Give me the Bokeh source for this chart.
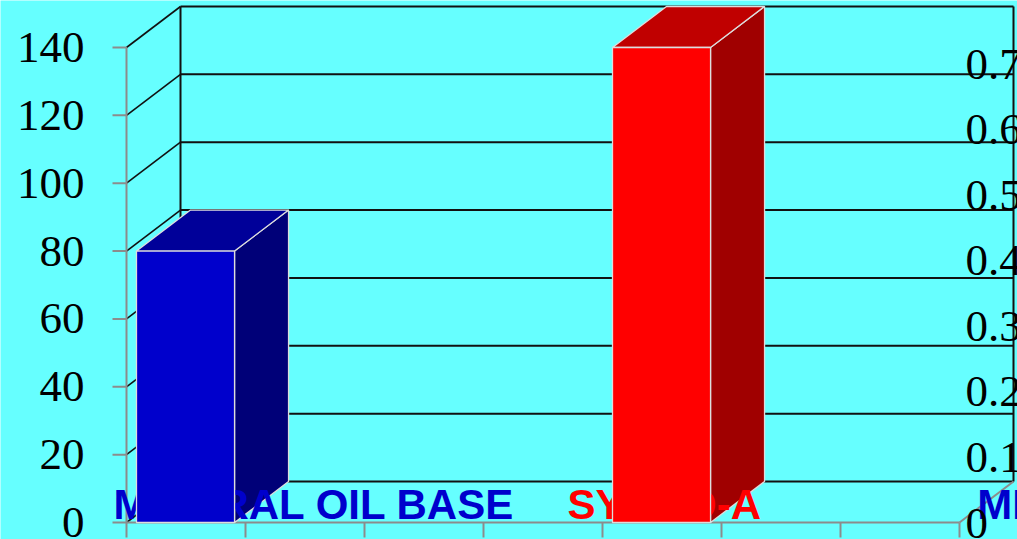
from bokeh.plotting import figure
from bokeh.models import Range1d
from bokeh.core.properties import value
from bokeh.embed import file_html
from bokeh.resources import INLINE

# ---------------- data ----------------
bar_names = ["MINERAL OIL BASE", "SYNCO-A"]
bar_values = [80, 140]
bar_slots = [0, 4]
n_slots = 7

front_colors = ["#0000CC", "#FF0000"]
top_colors = ["#000099", "#C00000"]
side_colors = ["#000078", "#A00000"]

left_ticks = [0, 20, 40, 60, 80, 100, 120, 140]
left_tick_labels = ["0", "20", "40", "60", "80", "100", "120", "140"]

right_ticks = [0, 0.1, 0.2, 0.3, 0.4, 0.5, 0.6, 0.7]
right_tick_labels = ["0", "0.1", "0.2", "0.3", "0.4", "0.5", "0.6", "0.7"]

cat_texts = ["MINERAL OIL BASE", "SYNCO-A", "MI"]
cat_text_colors = ["#0000CC", "#FF0000", "#0000CC"]
cat_text_x = [-0.11, 3.705, 7.15]

# ---------------- layout constants ----------------
W, H = 1017, 539
PX_X = 119.0      # pixels per category slot
PX_Y = 3.3929     # pixels per value unit
X0_PX = 126.0     # pixel of slot 0
Y0_PX = 522.0     # pixel of value 0
DX = 54.0 / PX_X  # depth offset (x)
DY = 41.0 / PX_Y  # depth offset (y)
BAR_PAD = 0.084
BAR_W = 0.824
YMAX = left_ticks[-1]

p = figure(width=W, height=H, output_backend="svg", toolbar_location=None,
           x_axis_location=None, y_axis_location=None,
           x_range=Range1d(-X0_PX / PX_X, (W - X0_PX) / PX_X),
           y_range=Range1d((Y0_PX - H) / PX_Y, Y0_PX / PX_Y),
           min_border=0, min_border_left=0, min_border_right=0,
           min_border_top=0, min_border_bottom=0)
p.extra_y_ranges = {"right": Range1d((522.6 - H) / 655.8, 522.6 / 655.8)}
p.background_fill_color = "#66FFFF"
p.border_fill_color = "#66FFFF"
p.outline_line_color = None
p.xgrid.visible = False
p.ygrid.visible = False

# back wall gridlines
p.segment(x0=[DX] * len(left_ticks), y0=[v + DY for v in left_ticks],
          x1=[n_slots + DX] * len(left_ticks), y1=[v + DY for v in left_ticks],
          line_color="#111111", line_width=2)
# back wall verticals
p.segment(x0=[DX, n_slots + DX], y0=[DY, DY], x1=[DX, n_slots + DX], y1=[YMAX + DY] * 2,
          line_color="#111111", line_width=2)
# left wall diagonals
p.segment(x0=[0] * len(left_ticks), y0=left_ticks,
          x1=[DX] * len(left_ticks), y1=[v + DY for v in left_ticks],
          line_color="#111111", line_width=1.6)
# left axis line and ticks
p.segment(x0=[0], y0=[0], x1=[0], y1=[YMAX], line_color="#8C8C8C", line_width=2)
p.segment(x0=[-14 / PX_X] * len(left_ticks), y0=left_ticks,
          x1=[0] * len(left_ticks), y1=left_ticks, line_color="#8C8C8C", line_width=2)
# floor front edge, right edge, ticks
p.segment(x0=[0, n_slots], y0=[0, 0], x1=[n_slots, n_slots + DX], y1=[0, DY],
          line_color="#8C8C8C", line_width=2)
slots = list(range(n_slots + 1))
p.segment(x0=slots, y0=[0] * len(slots), x1=slots, y1=[-15 / PX_Y] * len(slots),
          line_color="#8C8C8C", line_width=2)

# left tick labels
p.text(x=[0] * len(left_ticks), y=left_ticks, text=left_tick_labels,
       x_offset=-42, text_align="right", text_baseline="middle",
       text_font=value("Liberation Serif"), text_font_size="45px", text_color="black")

# 3D bars: side and top faces first
for slot, v, tc, sc in zip(bar_slots, bar_values, top_colors, side_colors):
    x0 = slot + BAR_PAD
    x1 = x0 + BAR_W
    p.patches(xs=[[x1, x1 + DX, x1 + DX, x1]], ys=[[0, DY, v + DY, v]],
              fill_color=sc, line_color="#DDDDDD", line_width=1.3)
    p.patches(xs=[[x0, x1, x1 + DX, x0 + DX]], ys=[[v, v, v + DY, v + DY]],
              fill_color=tc, line_color="#DDDDDD", line_width=1.3)

# category texts (over side faces, behind front faces)
p.text(x=cat_text_x, y=[0] * len(cat_texts), text=cat_texts, y_offset=-18,
       text_color=cat_text_colors, text_align="left", text_baseline="middle",
       text_font=value("Liberation Sans"), text_font_style="bold", text_font_size="42px")

# 3D bars: front faces
for slot, v, fc in zip(bar_slots, bar_values, front_colors):
    x0 = slot + BAR_PAD
    x1 = x0 + BAR_W
    p.patches(xs=[[x0, x1, x1, x0]], ys=[[0, 0, v, v]],
              fill_color=fc, line_color="#DDDDDD", line_width=1.3)

# right tick labels
p.text(x=[n_slots + DX] * len(right_ticks), y=right_ticks, text=right_tick_labels,
       y_range_name="right", x_offset=-48, text_align="left", text_baseline="middle",
       text_font=value("Liberation Serif"), text_font_size="45px", text_color="black")

open("out.html", "w").write(file_html(p, INLINE))
